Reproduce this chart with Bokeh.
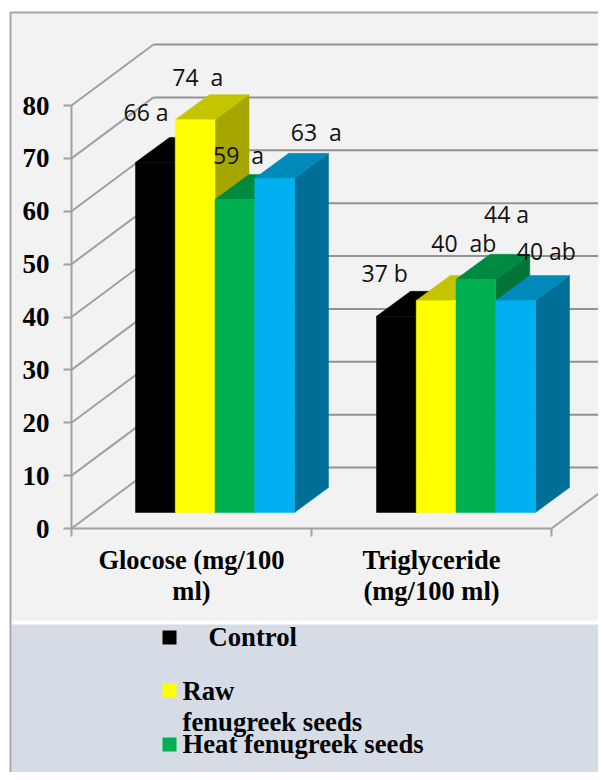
from bokeh.plotting import figure
from bokeh.models import LinearAxis, FixedTicker, Range1d, ColumnDataSource
from bokeh.core.properties import value
from bokeh.embed import file_html
from bokeh.resources import INLINE

# ---- data ----
categories = ["Glocose (mg/100\nml)", "Triglyceride\n(mg/100 ml)"]
series_names = ["Control", "Raw", "Heat", "Cold"]
control = [66.2, 37.1]
raw = [74.3, 40.1]
heat = [59.2, 44.1]
fourth = [63.2, 40.1]
control_labels = ["66 a", "37 b"]
raw_labels = ["74\u00a0 a", "40\u00a0 ab"]
heat_labels = ["59\u00a0 a", "44 a"]
fourth_labels = ["63\u00a0 a", "40 ab"]
y_ticks = [0, 10, 20, 30, 40, 50, 60, 70, 80]
legend_labels = ["Control", "Raw", "fenugreek seeds", "Heat fenugreek seeds"]

# ---- styles / layout ----
W, H = 598, 772
PX_X0, PX_Y0 = 71.0, 528.0      # picture pixel of data (0, 0)
SX, SY = 240.0, 5.2875          # pixels per data unit


def ux(px):
    return (px - PX_X0) / SX


def vy(py):
    return (PX_Y0 - py) / SY


WALL_DX, WALL_DY = 82 / SX, 61 / SY
BAR_DX, BAR_DY = 34 / SX, 25 / SY
BAR_W = 39.75 / SX
BAR_START = 64 / SX
GROUP_STEP = 241 / SX
BAR_BASE = 16 / SY
LINE = "#a0a0a0"
WALL_LINE = "#929292"
PANEL = "#f2f2f2"
BAND = "#d6dce5"
SERIF = value("Liberation Serif")
SANS = value("Open Sans")

faces = [
    ("#000000", "#000000", "#000000"),
    ("#ffff00", "#c4c400", "#a6a600"),
    ("#00b050", "#008a3f", "#007535"),
    ("#00b0f0", "#0089bb", "#006f98"),
]
label_offsets = [
    [(-12, -50), (-15, -43)],
    [(-3, -43), (15, -57)],
    [(-2, -44), (28, -65)],
    [(36, -46), (21, -49)],
]

p = figure(width=W, height=H, output_backend="svg", toolbar_location=None,
           x_axis_type=None, y_axis_type=None,
           x_range=Range1d(ux(0), ux(W)), y_range=Range1d(vy(H), vy(0)),
           min_border=0, background_fill_color="#ffffff",
           border_fill_color="#ffffff", outline_line_color=None)
p.grid.visible = False

# panel and legend band
p.quad(left=[ux(10)], right=[ux(W)], bottom=[vy(620)], top=[vy(12)],
       fill_color=PANEL, line_color=None)
p.quad(left=[ux(11)], right=[ux(W)], bottom=[vy(H)], top=[vy(624)],
       fill_color=BAND, line_color=None)
p.line([ux(10), ux(10), ux(W)], [vy(H), vy(12), vy(12)], line_color="#a6a6a6", line_width=2)

# 3D walls
for t in y_ticks:
    p.line([0, WALL_DX], [t, t + WALL_DY], line_color=LINE, line_width=2)
    p.line([WALL_DX, ux(W)], [t + WALL_DY, t + WALL_DY], line_color=WALL_LINE, line_width=2)
p.line([2, 2 + WALL_DX], [0, WALL_DY], line_color=LINE, line_width=2)

# bars
all_vals = [control, raw, heat, fourth]
all_labels = [control_labels, raw_labels, heat_labels, fourth_labels]
tx, ty, tt, ox, oy = [], [], [], [], []
for g in range(len(categories)):
    for s, vals in enumerate(all_vals):
        v = vals[g]
        x0 = g * GROUP_STEP + BAR_START + s * BAR_W
        x1 = x0 + BAR_W
        top = BAR_BASE + v
        front, top_c, side = faces[s]
        p.patch([x1, x1 + BAR_DX, x1 + BAR_DX, x1],
                [BAR_BASE, BAR_BASE + BAR_DY, top + BAR_DY, top],
                fill_color=side, line_color=side, line_width=0.5)
        p.patch([x0, x1, x1 + BAR_DX, x0 + BAR_DX],
                [top, top, top + BAR_DY, top + BAR_DY],
                fill_color=top_c, line_color=top_c, line_width=0.5)
        p.quad(left=[x0], right=[x1], bottom=[BAR_BASE], top=[top],
               fill_color=front, line_color=front, line_width=0.5)
        tx.append(x0)
        ty.append(top)
        tt.append(all_labels[s][g])
        ox.append(label_offsets[s][g][0])
        oy.append(label_offsets[s][g][1])

p.text(x="x", y="y", text="t", x_offset="ox", y_offset="oy",
       source=ColumnDataSource(dict(x=tx, y=ty, t=tt, ox=ox, oy=oy)),
       text_font=SANS, text_font_size="23px", text_color="#111111",
       text_align="left", text_baseline="alphabetic")

# axes
yaxis = LinearAxis(fixed_location=0, bounds=(0, 80), ticker=FixedTicker(ticks=y_ticks))
yaxis.axis_line_color = LINE
yaxis.axis_line_width = 2
yaxis.major_tick_line_color = LINE
yaxis.major_tick_line_width = 2
yaxis.major_tick_out = 8
yaxis.major_tick_in = 0
yaxis.minor_tick_line_color = None
yaxis.major_label_standoff = 14
yaxis.major_label_text_font = "Liberation Serif"
yaxis.major_label_text_font_style = "bold"
yaxis.major_label_text_font_size = "27px"
yaxis.major_label_text_color = "#000000"
p.add_layout(yaxis, "left")

xaxis = LinearAxis(fixed_location=0, bounds=(0, 2),
                   ticker=FixedTicker(ticks=[0.5, 1.5], minor_ticks=[0, 1, 2]),
                   major_label_overrides={0.5: categories[0], 1.5: categories[1]})
xaxis.axis_line_color = LINE
xaxis.axis_line_width = 2
xaxis.major_tick_line_color = None
xaxis.minor_tick_line_color = LINE
xaxis.minor_tick_line_width = 2
xaxis.minor_tick_out = 8
xaxis.minor_tick_in = 0
xaxis.major_label_standoff = 8
xaxis.major_label_text_line_height = 1.06
xaxis.major_label_text_font = "Liberation Serif"
xaxis.major_label_text_font_style = "bold"
xaxis.major_label_text_font_size = "26.5px"
xaxis.major_label_text_color = "#000000"
p.add_layout(xaxis, "below")

# legend
for color, py in zip(["#000000", "#ffff00", "#00b050"], [630, 683, 737]):
    p.quad(left=[ux(162)], right=[ux(176)], top=[vy(py)], bottom=[vy(py + 14)],
           fill_color=color, line_color=None)
p.text(x=[ux(208), ux(182), ux(182), ux(182)],
       y=[vy(636), vy(690), vy(721), vy(743)], text=legend_labels,
       text_font=SERIF, text_font_style="bold", text_font_size="26.7px",
       text_color="#000000", text_align="left", text_baseline="alphabetic")

open("out.html", "w").write(file_html(p, INLINE))
